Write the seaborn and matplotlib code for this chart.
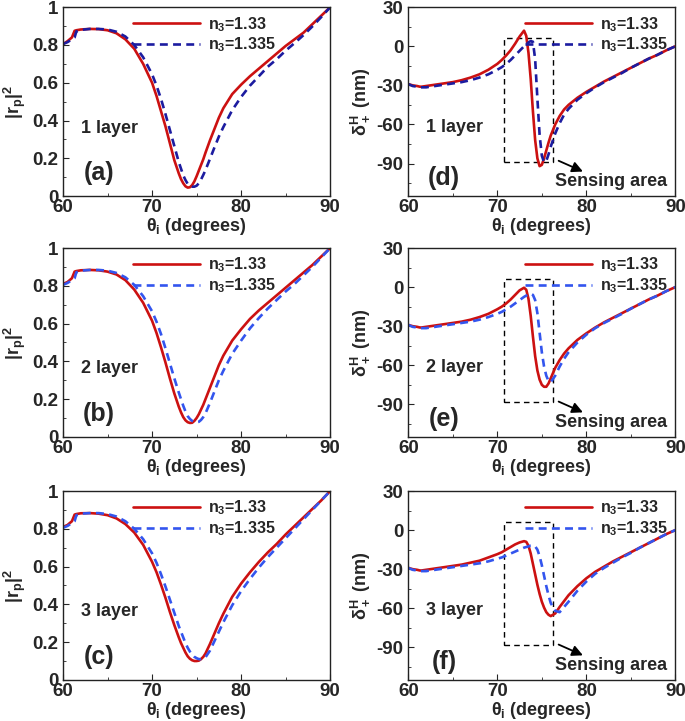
import numpy as np
import pandas as pd
import seaborn as sns
import matplotlib.pyplot as plt
from matplotlib.patches import Rectangle
from matplotlib.ticker import MultipleLocator, FormatStrFormatter

# incidence angle grid (degrees)
theta = [60, 60.5, 61, 61.3, 61.5, 62, 63, 64, 65, 66, 67, 68, 69, 70, 70.5, 71, 71.5, 72,
         72.5, 73, 73.25, 73.5, 73.75, 74, 74.25, 74.5, 74.75, 75, 75.25, 75.5, 75.75, 76,
         76.5, 77, 77.5, 78, 79, 80, 81, 82, 83, 84, 85, 86, 87, 88, 89, 90]

# |rp|^2, n3 = 1.33 / 1.335
rp_1_133 = [.805, .82, .84, .875, .878, .882, .885, .884, .878, .862, .83, .78, .70, .60, .53, .45,
            .37, .28, .19, .12, .09, .068, .052, .045, .047, .058, .078, .105, .135, .165, .195,
            .23, .295, .355, .415, .465, .54, .59, .635, .675, .715, .755, .795, .83, .865, .91,
            .955, 1.0]
rp_1_1335 = [.805, .815, .83, .84, .872, .88, .885, .885, .882, .87, .845, .80, .735, .645, .585,
             .515, .435, .35, .265, .18, .145, .11, .085, .065, .055, .05, .05, .055, .068, .088,
             .112, .138, .197, .257, .315, .365, .455, .525, .585, .635, .685, .725, .77, .81,
             .852, .898, .948, 1.0]
rp_2_133 = [.81, .82, .84, .875, .878, .882, .884, .882, .875, .86, .83, .78, .71, .615, .55, .475,
            .395, .31, .23, .16, .13, .105, .088, .078, .074, .075, .085, .10, .12, .145, .17, .2,
            .26, .32, .38, .43, .51, .57, .625, .67, .71, .75, .79, .83, .87, .91, .955, 1.0]
rp_2_1335 = [.805, .815, .83, .84, .872, .88, .884, .884, .88, .868, .845, .805, .745, .665, .61,
             .545, .47, .39, .31, .235, .2, .165, .135, .11, .095, .085, .08, .078, .08, .09, .105,
             .125, .18, .24, .30, .35, .44, .51, .575, .63, .68, .725, .77, .81, .855, .9, .95, 1.0]
rp_3_133 = [.81, .82, .84, .875, .878, .882, .883, .88, .872, .855, .825, .78, .715, .625, .57,
            .505, .435, .36, .29, .225, .195, .17, .145, .125, .112, .104, .1, .1, .102, .11, .122,
            .14, .19, .245, .3, .35, .44, .51, .57, .625, .675, .72, .77, .815, .86, .905, .95, 1.0]
rp_3_1335 = [.805, .815, .83, .84, .872, .88, .883, .883, .878, .865, .84, .80, .745, .67, .62,
             .56, .495, .425, .355, .285, .255, .225, .195, .17, .15, .135, .122, .115, .11, .11,
             .112, .12, .155, .205, .255, .305, .395, .47, .535, .595, .65, .70, .75, .80, .85,
             .90, .95, 1.0]

# Goos-Hanchen shift delta_+^H (nm), n3 = 1.33 / 1.335
gh_1_133 = [-29, -30, -30.5, -31, -31, -30.5, -29.5, -28.5, -27.5, -26, -24, -21.5, -18, -13.5,
            -10.5, -7, -3, 2, 7.5, 12, 8, -5, -25, -50, -72, -86, -92, -91, -86, -80, -74, -68.5,
            -60, -53.5, -48.5, -45, -39.5, -35, -31, -27, -23.5, -20, -16.5, -13, -9.5, -6.5, -3, 0]
gh_1_1335 = [-29, -30.5, -31, -31.5, -31.5, -31.5, -30.5, -29.5, -28.5, -27.5, -26, -24, -21.5,
             -18, -16, -13.5, -10.5, -7, -3.5, 0, 1.5, 3, 4, 3.5, -10, -40, -68, -84, -89, -88,
             -83, -77, -67, -59, -52.5, -48, -41, -36, -31.5, -27.5, -24, -20.5, -16.5, -13, -9.5,
             -6.5, -3, 0]
gh_2_133 = [-29, -30, -30.5, -31, -31, -30.5, -29.5, -28.5, -27.5, -26.5, -25, -23, -20.5, -17,
            -15, -12.5, -9.5, -6, -2.5, -0.5, -2, -9, -22, -38, -53, -64, -71, -75, -76.5, -76.5,
            -74, -70, -62, -56, -51, -47, -40.5, -35.5, -31, -27, -23.5, -20, -16.5, -13, -9.5,
            -6.5, -3, 0]
gh_2_1335 = [-29, -30.5, -31, -31.5, -31.5, -31.5, -30.5, -29.5, -28.5, -27.5, -26.5, -25, -23,
             -20.5, -19, -17, -15, -12.5, -10, -7.5, -6.5, -5.5, -5, -6, -10, -20, -35, -50, -61,
             -68, -72, -73, -68, -61, -55, -50, -42.5, -36.5, -31.5, -27.5, -24, -20.5, -16.5,
             -13, -9.5, -6.5, -3, 0]
gh_3_133 = [-29, -30, -30.5, -31, -31, -30.5, -29.5, -28.5, -27.5, -26.5, -25, -23.5, -21, -18.5,
            -17, -15, -13, -11, -9.5, -8.5, -9, -12, -18, -26, -34, -42, -49, -55, -59.5, -63, -65,
            -66, -64, -59, -54.5, -50, -43, -37, -32, -28, -24, -20.5, -17, -13.5, -10, -6.5, -3, 0]
gh_3_1335 = [-29, -30.5, -31, -31.5, -31.5, -31.5, -30.5, -29.5, -28.5, -27.5, -26.5, -25.5, -24,
             -22, -21, -19.5, -18, -16.5, -15, -13.5, -13, -12.5, -12, -12, -12.5, -15, -20, -27,
             -35, -43, -50, -56, -62, -63, -59, -55, -46.5, -39.5, -33.5, -29, -25, -21, -17.5,
             -13.5, -10, -6.5, -3, 0]

layers = ['1 layer', '2 layer', '3 layer']
left_tags = ['(a)', '(b)', '(c)']
right_tags = ['(d)', '(e)', '(f)']
rp_data = [(rp_1_133, rp_1_1335), (rp_2_133, rp_2_1335), (rp_3_133, rp_3_1335)]
gh_data = [(gh_1_133, gh_1_1335), (gh_2_133, gh_2_1335), (gh_3_133, gh_3_1335)]
blue_cols = ['#1c1ca0', '#3355ee', '#3355ee']
red = '#cc1111'

sns.set_style('ticks')
plt.rcParams['font.family'] = ['Liberation Sans', 'DejaVu Sans']
plt.rcParams['font.weight'] = 'bold'
plt.rcParams['axes.labelweight'] = 'bold'
plt.rcParams['mathtext.fontset'] = 'custom'
plt.rcParams['mathtext.rm'] = 'Liberation Sans:bold'
plt.rcParams['mathtext.it'] = 'Liberation Sans:bold'
plt.rcParams['mathtext.bf'] = 'Liberation Sans:bold'
plt.rcParams['mathtext.default'] = 'rm'
plt.rcParams['axes.unicode_minus'] = False

fig = plt.figure(figsize=(6.85, 7.21), dpi=100)
bottoms = [0.728, 0.394, 0.057]
lefts = [0.092, 0.596]
w, h = 0.39, 0.262


def style_axis(ax):
    for s in ax.spines.values():
        s.set_visible(True)
        s.set_color('#222222')
        s.set_linewidth(1.0)
    ax.tick_params(which='both', direction='in', labelsize=13.5, top=False, right=False)
    ax.tick_params(which='major', length=4)
    ax.tick_params(which='minor', length=2.5)
    ax.tick_params(axis='x', pad=2)
    ax.set_xlim(60, 90)
    ax.xaxis.set_major_locator(MultipleLocator(10))
    ax.xaxis.set_minor_locator(MultipleLocator(5))
    ax.set_xlabel(r'$\theta_i$ (degrees)', fontsize=13, labelpad=0)


for r in range(3):
    # left: reflectance
    ax = fig.add_axes([lefts[0], bottoms[r], w, h])
    df = pd.DataFrame({'theta': theta, 'a': rp_data[r][0], 'b': rp_data[r][1]})
    sns.lineplot(data=df, x='theta', y='a', ax=ax, color=red, lw=1.9, label='n$_3$=1.33')
    sns.lineplot(data=df, x='theta', y='b', ax=ax, color=blue_cols[r], lw=1.9,
                 label='n$_3$=1.335')
    ax.lines[1].set_dashes((3, 2))
    style_axis(ax)
    ax.set_ylim(0, 1)
    ax.yaxis.set_major_locator(MultipleLocator(0.2))
    ax.yaxis.set_minor_locator(MultipleLocator(0.1))
    ax.yaxis.set_major_formatter(plt.FuncFormatter(lambda v, p: '%g' % round(v, 2)))
    ax.set_ylabel(r'|r$_p$|$^2$', fontsize=13, labelpad=3)
    ax.legend(loc='upper right', bbox_to_anchor=(0.85, 1.035), frameon=False, fontsize=11.5,
              handlelength=4.2, labelspacing=0.12, handletextpad=0.5)
    ax.text(65.2, 0.36, layers[r], fontsize=13, ha='center', va='center')
    ax.text(64, 0.12, left_tags[r], fontsize=18, ha='center', va='center')

    # right: GH shift
    ax = fig.add_axes([lefts[1], bottoms[r], w, h])
    df = pd.DataFrame({'theta': theta, 'a': gh_data[r][0], 'b': gh_data[r][1]})
    sns.lineplot(data=df, x='theta', y='a', ax=ax, color=red, lw=1.9, label='n$_3$=1.33')
    sns.lineplot(data=df, x='theta', y='b', ax=ax, color=blue_cols[r], lw=1.9,
                 label='n$_3$=1.335')
    ax.lines[1].set_dashes((3, 2))
    style_axis(ax)
    ax.set_ylim(-115, 30)
    ax.yaxis.set_minor_locator(MultipleLocator(15))
    ax.set_yticks([-90, -60, -30, 0, 30])
    ax.yaxis.set_major_formatter(FormatStrFormatter('%d'))
    ax.set_ylabel(r'$\delta_+^H$ (nm)', fontsize=13, labelpad=3)
    ax.legend(loc='upper right', bbox_to_anchor=(1.025, 1.035), frameon=False, fontsize=11.5,
              handlelength=4.2, labelspacing=0.12, handletextpad=0.5)
    ax.add_patch(Rectangle((70.7, -88.5), 5.5, 94.5, fill=False, ec='black', lw=1.0,
                           ls=(0, (4, 3))))
    ax.annotate('', xy=(79.9, -97), xytext=(76.6, -87),
                arrowprops=dict(arrowstyle='-|>', color='black', lw=1.3, mutation_scale=16))
    ax.text(82.8, -104, 'Sensing area', fontsize=13, ha='center', va='center')
    ax.text(65.2, -62, layers[r], fontsize=13, ha='center', va='center')
    ax.text(64, -101, right_tags[r], fontsize=18, ha='center', va='center')

fig.savefig('out.png', dpi=100)
